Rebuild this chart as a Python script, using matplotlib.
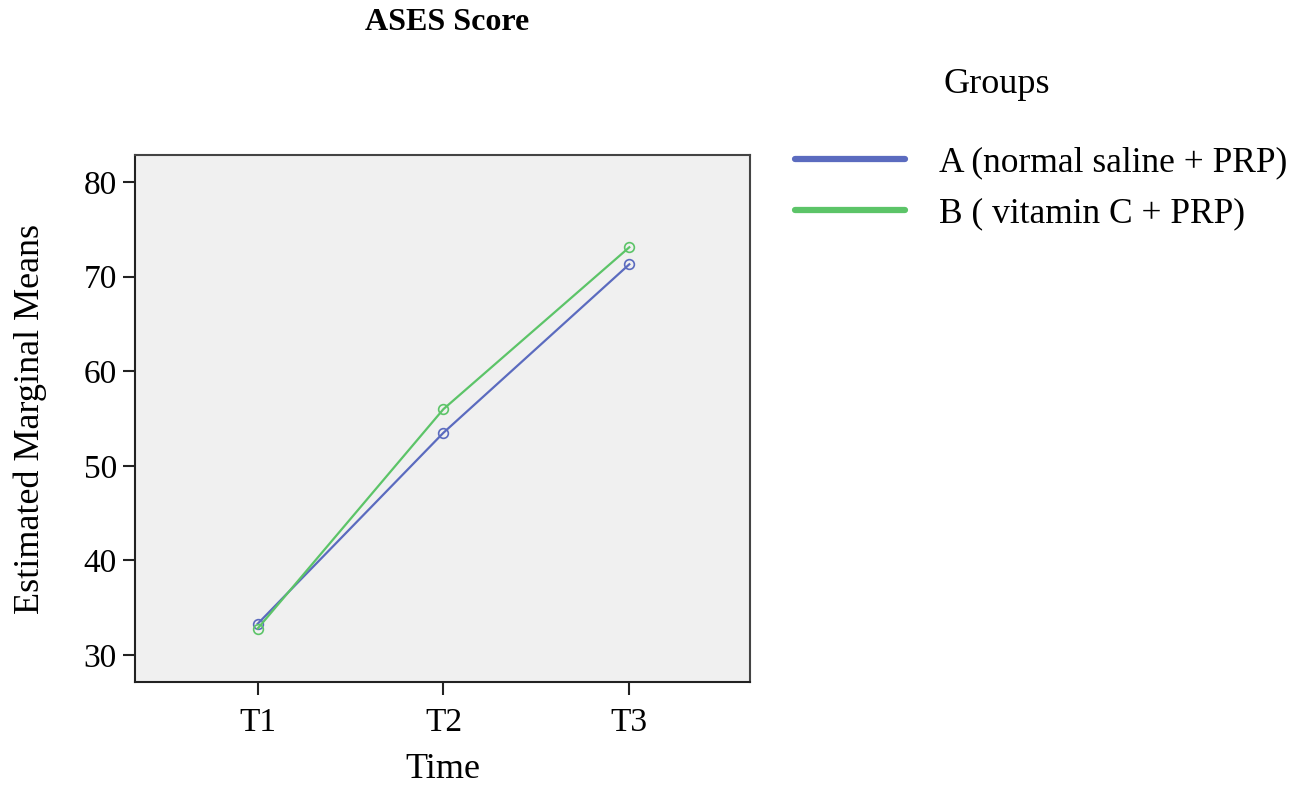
import matplotlib.pyplot as plt

# ASES score, estimated marginal means per time point
times = ["T1", "T2", "T3"]
group_a = [33.3, 53.5, 71.3]
group_b = [32.8, 56.0, 73.1]
labels = ["A (normal saline + PRP)", "B ( vitamin C + PRP)"]
colors = ["#5b6bbf", "#5cc468"]

plt.rcParams["font.family"] = ["Liberation Serif", "DejaVu Serif"]

fig = plt.figure(figsize=(13.07, 7.85), dpi=100)
ax = fig.add_axes([0.1033, 0.1312, 0.4706, 0.6713])
ax.set_facecolor("#f0f0f0")

x = [1, 2, 3]
handles = []
for vals, col, lab in zip([group_a, group_b], colors, labels):
    ax.plot(x, vals, color=col, linewidth=1.6, marker="o", markersize=7,
            markerfacecolor="none", markeredgecolor=col, markeredgewidth=1.2)
    h, = ax.plot([], [], color=col, linewidth=4.5, solid_capstyle="round", label=lab)
    handles.append(h)

ax.set_xlim(0.34, 3.65)
ax.set_ylim(27.15, 82.85)
ax.set_xticks(x)
ax.set_xticklabels(times)
ax.set_yticks([30, 40, 50, 60, 70, 80])
ax.tick_params(axis="both", labelsize=24, length=9, width=1.5, color="#222222")
ax.tick_params(axis="x", pad=9)
ax.tick_params(axis="y", pad=4)
for side in ["left", "bottom"]:
    ax.spines[side].set_linewidth(1.5)
    ax.spines[side].set_color("#222222")
for side in ["top", "right"]:
    ax.spines[side].set_linewidth(1.5)
    ax.spines[side].set_color("#444444")

ax.set_xlabel("Time", fontsize=26, labelpad=11)
ax.set_ylabel("Estimated Marginal Means", fontsize=26, labelpad=26)
fig.text(0.342, 0.99, "ASES Score", fontsize=23, fontweight="bold",
         ha="center", va="top")

fig.text(0.7215, 0.892, "Groups", fontsize=26, ha="left", va="center")
fig.legend(handles=handles, loc="upper left", bbox_to_anchor=(0.595, 0.836),
           frameon=False, fontsize=25.5, handlelength=3.1, handletextpad=0.95,
           labelspacing=0.5, borderpad=0)

fig.savefig("out.png", dpi=100)
